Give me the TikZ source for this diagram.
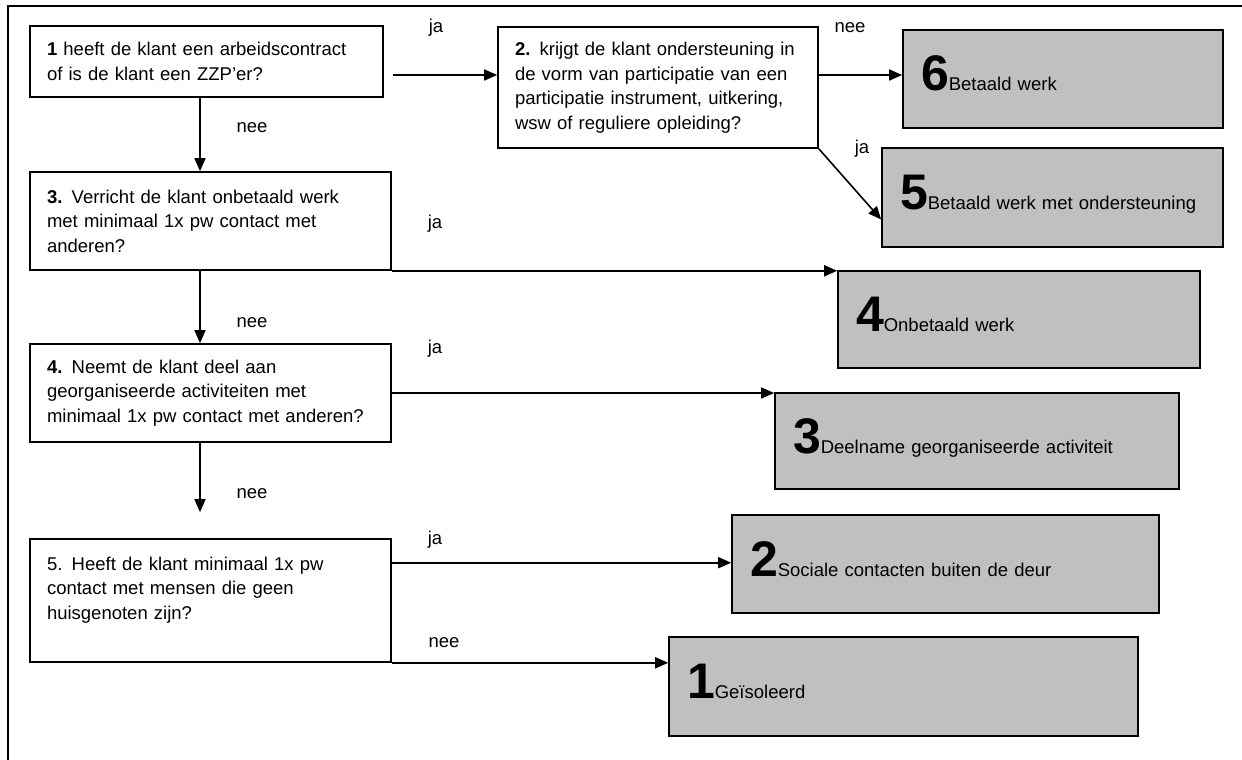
\documentclass[tikz,border=0pt]{standalone}
\usepackage{fontspec}
\setmainfont{Liberation Sans}
\usetikzlibrary{arrows.meta}
\definecolor{boxgrey}{RGB}{192,192,192}
\newcommand{\bignr}[1]{{\fontsize{50}{50}\selectfont\bfseries #1}}

\begin{document}
\begin{tikzpicture}[x=1pt, y=-1pt,
  every node/.style={font=\fontsize{18.5}{24.5}\selectfont},
  vraag/.style={draw, line width=1.6pt, align=left, inner xsep=17pt, inner ysep=0pt},
  uitkomst/.style={draw, line width=1.6pt, fill=boxgrey, align=left, inner xsep=18pt, inner ysep=0pt, text height=38pt, text depth=14pt},
  pijl/.style={line width=1.6pt, -{Triangle[length=13pt,width=11pt]}},
  lbl/.style={anchor=base, inner sep=0pt}]
  \useasboundingbox (0,0) rectangle (1242,760);
  \draw[line width=1.3pt] (8,760) -- (8,6) -- (1242,6);

  \node[vraag, text width=319pt, minimum height=71pt] (v1) at (206.5,61.5) {\textbf{1} heeft de klant een arbeidscontract\\of is de klant een ZZP'er?};
  \node[vraag, text width=286pt, minimum height=121pt] (v2) at (658,87.5) {\textbf{2.} krijgt de klant ondersteuning in\\de vorm van participatie van een\\participatie instrument, uitkering,\\wsw of reguliere opleiding?};
  \node[vraag, text width=327pt, minimum height=98pt] (v3) at (210.5,221) {\textbf{3.} Verricht de klant onbetaald werk\\met minimaal 1x pw contact met\\anderen?};
  \node[vraag, text width=327pt, minimum height=98pt] (v4) at (210.5,393) {\textbf{4.} Neemt de klant deel aan\\georganiseerde activiteiten met\\minimaal 1x pw contact met anderen?};
  \node[vraag, text width=327pt, minimum height=123pt] (v5) at (210.5,600.5) {5. Heeft de klant minimaal 1x pw\\contact met mensen die geen\\huisgenoten zijn?\\\mbox{}};

  \node[uitkomst, text width=284pt, minimum height=98pt] (r6) at (1063,79) {\bignr{6}Betaald werk};
  \node[uitkomst, text width=305pt, minimum height=99pt] (r5) at (1052.5,197.5) {\bignr{5}Betaald werk met ondersteuning};
  \node[uitkomst, text width=326pt, minimum height=97pt] (r4) at (1019,319.5) {\bignr{4}Onbetaald werk};
  \node[uitkomst, text width=368pt, minimum height=96pt] (r3) at (977,441) {\bignr{3}Deelname georganiseerde activiteit};
  \node[uitkomst, text width=391pt, minimum height=98pt] (r2) at (945.5,564) {\bignr{2}Sociale contacten buiten de deur};
  \node[uitkomst, text width=433pt, minimum height=99pt] (r1) at (903.5,686.5) {\bignr{1}Geïsoleerd};

  \coordinate (j1) at ([xshift=9pt,yshift=-13.5pt]v1.east);
  \coordinate (n2) at ([yshift=12.5pt]v2.east);
  \coordinate (j2) at ([yshift=-22pt]r5.west);
  \coordinate (n1) at ([xshift=-6.5pt]v1.south);
  \coordinate (n3) at ([xshift=-10.5pt]v3.south);
  \coordinate (n4) at ([xshift=-10.5pt]v4.south);
  \coordinate (n4e) at ([yshift=26pt]v5.north);
  \coordinate (j5) at ([yshift=-24.5pt]v5.north east);

  \draw[pijl] (j1) -- (j1 -| v2.west);
  \draw[pijl] (n2) -- (n2 -| r6.west);
  \draw[pijl] (v2.south east) -- (j2);
  \draw[pijl] (n1) -- (n1 |- v3.north);
  \draw[pijl] (v3.south east) -- (v3.south east -| r4.west);
  \draw[pijl] (n3) -- (n3 |- v4.north);
  \draw[pijl] (v4.east) -- (v4.east -| r3.west);
  \draw[pijl] (n4) -- (n4 |- n4e);
  \draw[pijl] (j5) -- (j5 -| r2.west);
  \draw[pijl] (v5.south east) -- (v5.south east -| r1.west);

  \node[lbl] (ja1) at (436,33) {ja};
  \node[lbl] (nee1) at (850,33) {nee};
  \node[lbl] (ja2) at (862,153) {ja};
  \node[lbl] (nee2) at (252,132) {nee};
  \node[lbl] (ja3) at (435,228) {ja};
  \node[lbl] (nee3) at (252,327) {nee};
  \node[lbl] (ja4) at (435,353) {ja};
  \node[lbl] (nee4) at (252,498) {nee};
  \node[lbl] (ja5) at (435,544) {ja};
  \node[lbl] (nee5) at (444,647) {nee};
\end{tikzpicture}
\end{document}
